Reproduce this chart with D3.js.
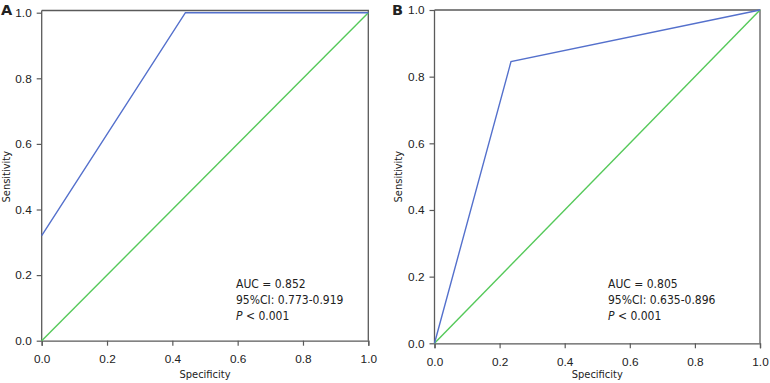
<!DOCTYPE html>
<html>
<head>
<meta charset="utf-8">
<script src="https://cdn.jsdelivr.net/npm/d3@7"></script>
<style>
  body { margin: 0; background: #fff; }
  svg { font-family: "DejaVu Sans Condensed", "DejaVu Sans", Tahoma, sans-serif; }
</style>
</head>
<body>
<div id="chart"></div>
<script>
const tickValues = [0, 0.2, 0.4, 0.6, 0.8, 1.0];

const specA = [0, 0.44, 1];
const sensA = [0.32, 1, 1];
const specB = [0, 0.235, 1];
const sensB = [0, 0.845, 1];
const refSpec = [0, 1];
const refSens = [0, 1];

const statsA = ["AUC = 0.852", "95%CI: 0.773-0.919", "0.001"];
const statsB = ["AUC = 0.805", "95%CI: 0.635-0.896", "0.001"];

const W = 770, H = 383;
const axisColor = "#5a5a5a";
const textColor = "#222";
const blue = "#5470cc";
const green = "#55c95a";

const svg = d3.select("#chart")
  .append("svg")
  .attr("width", W)
  .attr("height", H);

function drawPanel(opt) {
  const x = d3.scaleLinear().domain([0, 1]).range([opt.left, opt.right]);
  const y = d3.scaleLinear().domain([0, 1]).range([opt.bottom, opt.top]);
  const g = svg.append("g");

  // frame (top and right)
  g.append("path")
    .attr("d", `M${x(0)},${opt.frameTop}H${x(1)}V${y(0)}`)
    .attr("fill", "none")
    .attr("stroke", axisColor)
    .attr("stroke-width", 1.3);

  const xAxis = g.append("g")
    .attr("transform", `translate(0,${y(0)})`)
    .call(d3.axisBottom(x).tickValues(tickValues).tickFormat(d3.format(".1f")).tickSize(5).tickPadding(9));
  const yAxis = g.append("g")
    .attr("transform", `translate(${x(0)},0)`)
    .call(d3.axisLeft(y).tickValues(tickValues).tickFormat(d3.format(".1f")).tickSize(5).tickPadding(5));

  [xAxis, yAxis].forEach(a => {
    a.select(".domain").attr("stroke", axisColor).attr("stroke-width", 1.3);
    a.selectAll(".tick line").attr("stroke", axisColor).attr("stroke-width", 1.2);
    a.selectAll(".tick text").attr("fill", textColor).attr("font-size", 11.8);
  });
  yAxis.select(".domain").attr("d", `M0,${opt.frameTop}V${y(0)}`);

  const line = d3.line().x(d => x(d[0])).y(d => y(d[1]));

  g.append("path")
    .datum(d3.zip(refSpec, refSens))
    .attr("d", line)
    .attr("fill", "none")
    .attr("stroke", green)
    .attr("stroke-width", 1.4);

  g.append("path")
    .datum(d3.zip(opt.spec, opt.sens))
    .attr("d", line)
    .attr("fill", "none")
    .attr("stroke", blue)
    .attr("stroke-width", 1.4);

  g.append("text")
    .attr("x", (x(0) + x(1)) / 2)
    .attr("y", 378)
    .attr("text-anchor", "middle")
    .attr("font-size", 11)
    .attr("fill", textColor)
    .text("Specificity");

  g.append("text")
    .attr("transform", `translate(${opt.ylabX},${(y(0) + y(1)) / 2}) rotate(-90)`)
    .attr("text-anchor", "middle")
    .attr("font-size", 11)
    .attr("fill", textColor)
    .text("Sensitivity");

  g.append("text")
    .attr("x", opt.letterX)
    .attr("y", 15)
    .attr("font-family", "DejaVu Sans, sans-serif")
    .attr("font-size", 14.5)
    .attr("font-weight", "bold")
    .attr("fill", textColor)
    .text(opt.letter);

  const st = g.append("text")
    .attr("font-size", 12)
    .attr("fill", textColor);
  st.append("tspan").attr("x", opt.statX).attr("y", 288).text(opt.stats[0]);
  st.append("tspan").attr("x", opt.statX).attr("y", 304).text(opt.stats[1]);
  const p = st.append("tspan").attr("x", opt.statX).attr("y", 320);
  p.append("tspan").attr("font-style", "italic").text("P");
  p.append("tspan").text(" < " + opt.stats[2]);
}

drawPanel({
  left: 41.7, right: 368.3, top: 12.7, bottom: 340.7, frameTop: 10.5,
  spec: specA, sens: sensA, stats: statsA, statX: 236,
  ylabX: 10, letterX: 1, letter: "A"
});

drawPanel({
  left: 434.5, right: 760, top: 10, bottom: 343.3, frameTop: 10,
  spec: specB, sens: sensB, stats: statsB, statX: 608,
  ylabX: 402, letterX: 392, letter: "B"
});
</script>
</body>
</html>
